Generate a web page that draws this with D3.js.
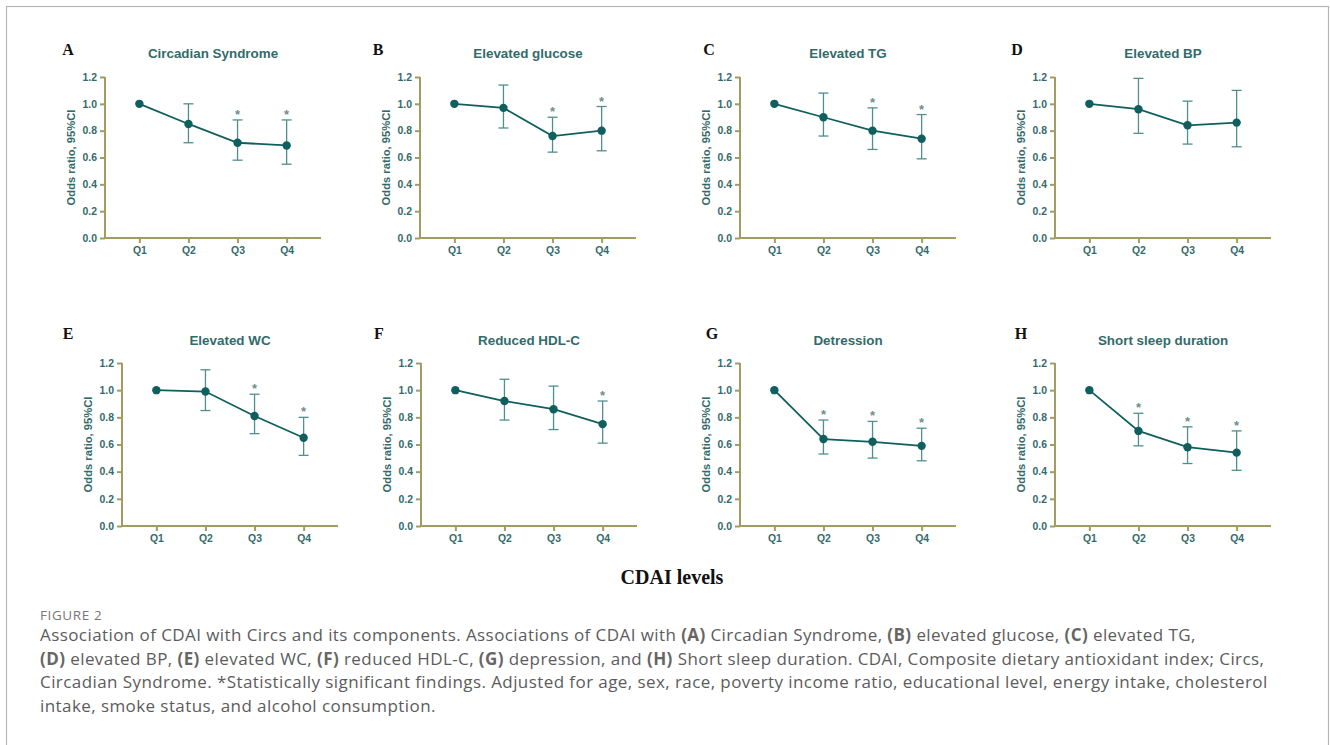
<!DOCTYPE html>
<html>
<head>
<meta charset="utf-8">
<script src="https://cdn.jsdelivr.net/npm/d3@7"></script>
<style>
  html, body { margin: 0; padding: 0; background: #fff; }
  svg { display: block; }
</style>
</head>
<body>
<svg id="chart" width="1330" height="745"></svg>
<script>
// quartiles and y ticks
const quartiles = ["Q1", "Q2", "Q3", "Q4"];
const yTicks = [0, 0.2, 0.4, 0.6, 0.8, 1.0, 1.2];

// panel letters and titles
const letters = ["A", "B", "C", "D", "E", "F", "G", "H"];
const titles = ["Circadian Syndrome", "Elevated glucose", "Elevated TG", "Elevated BP",
                "Elevated WC", "Reduced HDL-C", "Detression", "Short sleep duration"];

// odds ratios per quartile
const orA = [1.00, 0.85, 0.71, 0.69];
const orB = [1.00, 0.97, 0.76, 0.80];
const orC = [1.00, 0.90, 0.80, 0.74];
const orD = [1.00, 0.96, 0.84, 0.86];
const orE = [1.00, 0.99, 0.81, 0.65];
const orF = [1.00, 0.92, 0.86, 0.75];
const orG = [1.00, 0.64, 0.62, 0.59];
const orH = [1.00, 0.70, 0.58, 0.54];

// lower / upper 95% CI (null for reference group)
const loA = [null, 0.71, 0.58, 0.55], hiA = [null, 1.00, 0.88, 0.88];
const loB = [null, 0.82, 0.64, 0.65], hiB = [null, 1.14, 0.90, 0.98];
const loC = [null, 0.76, 0.66, 0.59], hiC = [null, 1.08, 0.97, 0.92];
const loD = [null, 0.78, 0.70, 0.68], hiD = [null, 1.19, 1.02, 1.10];
const loE = [null, 0.85, 0.68, 0.52], hiE = [null, 1.15, 0.97, 0.80];
const loF = [null, 0.78, 0.71, 0.61], hiF = [null, 1.08, 1.03, 0.92];
const loG = [null, 0.53, 0.50, 0.48], hiG = [null, 0.78, 0.77, 0.72];
const loH = [null, 0.59, 0.46, 0.41], hiH = [null, 0.83, 0.73, 0.70];

// significance flags
const sigA = [false, false, true, true];
const sigB = [false, false, true, true];
const sigC = [false, false, true, true];
const sigD = [false, false, false, false];
const sigE = [false, false, true, true];
const sigF = [false, false, false, true];
const sigG = [false, true, true, true];
const sigH = [false, true, true, true];

const ors = [orA, orB, orC, orD, orE, orF, orG, orH];
const los = [loA, loB, loC, loD, loE, loF, loG, loH];
const his = [hiA, hiB, hiC, hiD, hiE, hiF, hiG, hiH];
const sigs = [sigA, sigB, sigC, sigD, sigE, sigF, sigG, sigH];

const axisX = [105, 420, 740, 1055, 122, 421, 740, 1055];
const letterX = [68, 378, 709, 1017, 68, 379, 712, 1021];
const rows = [{top: 77, bottom: 238, title: 53, letter: 50},
              {top: 363, bottom: 526, title: 340, letter: 334}];

const axisCol = "#a39c62";
const textCol = "#336b6b";
const lineCol = "#0f5f5e";
const barCol = "#4f8f8d";
const starCol = "#6e8e8c";

const svg = d3.select("#chart");

svg.append("rect")
    .attr("x", 6.5).attr("y", 6.5)
    .attr("width", 1322).attr("height", 800)
    .attr("fill", "none").attr("stroke", "#b5b5b5").attr("stroke-width", 1.2);

letters.forEach((letter, i) => {
  const row = rows[Math.floor(i / 4)];
  const x0 = axisX[i];
  const x = d3.scaleLinear().domain([0.3, 4.7]).range([x0, x0 + 216]);
  const y = d3.scaleLinear().domain([0, 1.2]).range([row.bottom, row.top]);
  const g = svg.append("g");

  g.append("text")
      .attr("x", letterX[i]).attr("y", row.letter + 5)
      .attr("text-anchor", "middle")
      .attr("font-family", "Liberation Serif, Times New Roman, serif")
      .attr("font-weight", "bold").attr("font-size", 16)
      .attr("fill", "#111").text(letter);

  g.append("text")
      .attr("x", x(2.5)).attr("y", row.title + 5)
      .attr("text-anchor", "middle")
      .attr("font-family", "Liberation Sans, Arial, sans-serif")
      .attr("font-weight", "bold").attr("font-size", 13.4)
      .attr("fill", textCol).text(titles[i]);

  // y axis
  const yAxis = g.append("g")
      .attr("transform", `translate(${x0},0)`)
      .call(d3.axisLeft(y).tickValues(yTicks).tickFormat(d3.format(".1f")).tickSize(5).tickPadding(3));
  // x axis
  const xAxis = g.append("g")
      .attr("transform", `translate(0,${row.bottom})`)
      .call(d3.axisBottom(x).tickValues([1, 2, 3, 4]).tickFormat(d => quartiles[d - 1]).tickSize(5).tickPadding(4));

  [yAxis, xAxis].forEach(a => {
    a.select(".domain").attr("stroke", axisCol).attr("stroke-width", 2);
    a.selectAll(".tick line").attr("stroke", axisCol).attr("stroke-width", 2);
    a.selectAll(".tick text")
        .attr("fill", textCol)
        .attr("font-family", "Liberation Sans, Arial, sans-serif")
        .attr("font-weight", "bold").attr("font-size", 10.4);
  });
  yAxis.select(".domain").attr("d", `M-0,${row.bottom + 1}V${row.top}`);
  xAxis.select(".domain").attr("d", `M${x0 - 1},0H${x0 + 216}`);

  g.append("text")
      .attr("transform", `translate(${x0 - 30},${(row.top + row.bottom) / 2}) rotate(-90)`)
      .attr("text-anchor", "middle")
      .attr("font-family", "Liberation Sans, Arial, sans-serif")
      .attr("font-weight", "bold").attr("font-size", 11.2)
      .attr("fill", textCol).text("Odds ratio, 95%CI");

  const pts = ors[i].map((v, k) => ({q: k + 1, or: v, lo: los[i][k], hi: his[i][k], sig: sigs[i][k]}));
  const ci = pts.filter(d => d.lo !== null);

  const eb = g.append("g").attr("stroke", barCol).attr("stroke-width", 1.3).attr("fill", "none");
  eb.selectAll("line.v").data(ci).join("line")
      .attr("x1", d => x(d.q)).attr("x2", d => x(d.q))
      .attr("y1", d => y(d.lo)).attr("y2", d => y(d.hi));
  eb.selectAll("line.cl").data(ci).join("line")
      .attr("x1", d => x(d.q) - 5).attr("x2", d => x(d.q) + 5)
      .attr("y1", d => y(d.lo)).attr("y2", d => y(d.lo));
  eb.selectAll("line.ch").data(ci).join("line")
      .attr("x1", d => x(d.q) - 5).attr("x2", d => x(d.q) + 5)
      .attr("y1", d => y(d.hi)).attr("y2", d => y(d.hi));

  g.append("path")
      .datum(pts)
      .attr("fill", "none").attr("stroke", lineCol).attr("stroke-width", 1.8)
      .attr("d", d3.line().x(d => x(d.q)).y(d => y(d.or)));

  g.selectAll("circle").data(pts).join("circle")
      .attr("cx", d => x(d.q)).attr("cy", d => y(d.or))
      .attr("r", 4.2).attr("fill", lineCol);

  g.selectAll("text.star").data(pts.filter(d => d.sig)).join("text")
      .attr("class", "star")
      .attr("x", d => x(d.q)).attr("y", d => y(d.hi) - 1)
      .attr("text-anchor", "middle")
      .attr("font-family", "Liberation Sans, Arial, sans-serif")
      .attr("font-weight", "bold").attr("font-size", 13)
      .attr("fill", starCol).text("*");
});

svg.append("text")
    .attr("x", 672).attr("y", 584)
    .attr("text-anchor", "middle")
    .attr("font-family", "Liberation Serif, Times New Roman, serif")
    .attr("font-weight", "bold").attr("font-size", 20)
    .attr("fill", "#111").text("CDAI levels");

svg.append("text")
    .attr("x", 40).attr("y", 620)
    .attr("font-family", "Open Sans, sans-serif").attr("font-size", 13.5)
    .attr("letter-spacing", 0.6)
    .attr("fill", "#777").text("FIGURE 2");

const captionLines = [
  [["Association of CDAI with Circs and its components. Associations of CDAI with ", 0], ["(A)", 1], [" Circadian Syndrome, ", 0], ["(B)", 1], [" elevated glucose, ", 0], ["(C)", 1], [" elevated TG,", 0]],
  [["(D)", 1], [" elevated BP, ", 0], ["(E)", 1], [" elevated WC, ", 0], ["(F)", 1], [" reduced HDL-C, ", 0], ["(G)", 1], [" depression, and ", 0], ["(H)", 1], [" Short sleep duration. CDAI, Composite dietary antioxidant index; Circs,", 0]],
  [["Circadian Syndrome. *Statistically significant findings. Adjusted for age, sex, race, poverty income ratio, educational level, energy intake, cholesterol", 0]],
  [["intake, smoke status, and alcohol consumption.", 0]]
];
const capY = [641, 665, 688, 712];

captionLines.forEach((parts, li) => {
  const t = svg.append("text")
      .attr("x", 40).attr("y", capY[li])
      .attr("font-family", "Open Sans, sans-serif").attr("font-size", 17)
      .attr("letter-spacing", 0.42)
      .attr("fill", "#5c5c5c");
  parts.forEach(p => {
    t.append("tspan").attr("font-weight", p[1] ? "bold" : "normal")
        .attr("fill", p[1] ? "#666" : "#5c5c5c").text(p[0]);
  });
});
</script>
</body>
</html>
